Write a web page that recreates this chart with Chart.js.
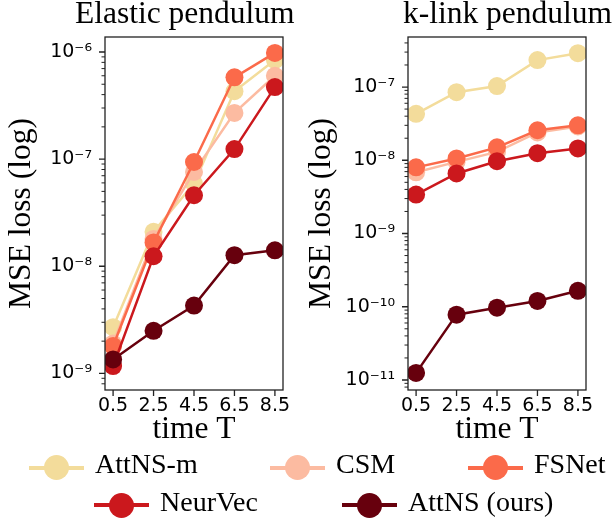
<!DOCTYPE html>
<html><head><meta charset="utf-8">
<script src="https://cdn.jsdelivr.net/npm/chart.js@4/dist/chart.umd.min.js"></script>
<style>
html,body{margin:0;padding:0;background:#fff;}
#wrap{position:relative;width:615px;height:525px;overflow:hidden;background:#fff;}
canvas{position:absolute;top:0;}
.ttl{position:absolute;font-family:'Liberation Serif',serif;font-size:31.5px;line-height:32px;white-space:nowrap;color:#000;}
.lg{position:absolute;font-family:'Liberation Serif',serif;font-size:28px;line-height:28px;white-space:nowrap;color:#000;}
.ln{position:absolute;height:4px;width:55px;}
.mk{position:absolute;width:25px;height:25px;border-radius:50%;}
</style></head>
<body><div id="wrap">
<canvas id="c1" width="300" height="450" style="left:0px"></canvas>
<canvas id="c2" width="315" height="450" style="left:300px"></canvas>
<div class="ttl" style="left:75px;top:-3px">Elastic pendulum</div>
<div class="ttl" style="left:403px;top:-3px">k-link pendulum</div>
</div>
<script>
// ---- data ----
const timeT = [0.5, 2.5, 4.5, 6.5, 8.5];
const seriesNames = ['AttNS-m', 'CSM', 'FSNet', 'NeurVec', 'AttNS (ours)'];
const seriesColors = ['#f3dc9b', '#fcbba1', '#fb6a4a', '#cb181d', '#67000d'];

const elasticAttNSm  = [2.7e-9, 2.1e-8, 5.9e-8, 4.3e-7, 8.4e-7];
const elasticCSM     = [1.9e-9, 1.8e-8, 7.6e-8, 2.7e-7, 6.0e-7];
const elasticFSNet   = [1.8e-9, 1.67e-8, 9.4e-8, 5.8e-7, 9.8e-7];
const elasticNeurVec = [1.17e-9, 1.24e-8, 4.6e-8, 1.24e-7, 4.7e-7];
const elasticAttNS   = [1.35e-9, 2.5e-9, 4.3e-9, 1.27e-8, 1.41e-8];

const klinkAttNSm  = [4.3e-8, 8.5e-8, 1.03e-7, 2.33e-7, 2.9e-7];
const klinkCSM     = [6.85e-9, 9.5e-9, 1.3e-8, 2.4e-8, 2.9e-8];
const klinkFSNet   = [8.0e-9, 1.06e-8, 1.5e-8, 2.57e-8, 3.0e-8];
const klinkNeurVec = [3.4e-9, 6.6e-9, 9.7e-9, 1.25e-8, 1.45e-8];
const klinkAttNS   = [1.25e-11, 7.8e-11, 9.7e-11, 1.2e-10, 1.65e-10];

const elasticYRange = [7.1e-10, 1.38e-6];
const klinkYRange = [7.3e-12, 4.82e-7];
const xRange = [0.1, 8.9];

// ---- helpers ----
const SUP = {'0':'⁰','1':'¹','2':'²','3':'³','4':'⁴','5':'⁵','6':'⁶','7':'⁷','8':'⁸','9':'⁹','-':'⁻'};
function isPow10(v){const l=Math.log10(v);return Math.abs(l-Math.round(l))<1e-9;}
function fmtLog(v){
  if(!isPow10(v)) return '';
  const e = String(Math.round(Math.log10(v)));
  return '10' + e.split('').map(c=>SUP[c]).join('');
}
function logTicks(mn, mx){
  const out=[];
  for(let e=Math.floor(Math.log10(mn)); e<=Math.ceil(Math.log10(mx)); e++){
    for(let m=1;m<=9;m++){
      const v = parseFloat((m*Math.pow(10,e)).toPrecision(6));
      if(v>=mn && v<=mx) out.push({value:v, major:m===1});
    }
  }
  return out;
}

const frameTicks = {
  id:'frameTicks',
  afterDraw(chart){
    const {ctx, chartArea:a} = chart;
    const x = chart.scales.x, y = chart.scales.y;
    ctx.save();
    ctx.strokeStyle = '#222';
    ctx.lineWidth = 1.3;
    ctx.strokeRect(a.left, a.top, a.right-a.left, a.bottom-a.top);
    ctx.beginPath();
    x.ticks.forEach(t=>{
      const px = x.getPixelForValue(t.value);
      ctx.moveTo(px, a.bottom); ctx.lineTo(px, a.bottom+6);
    });
    y.ticks.forEach(t=>{
      if(!isPow10(t.value)) return;
      const py = y.getPixelForValue(t.value);
      ctx.moveTo(a.left-6, py); ctx.lineTo(a.left, py);
    });
    ctx.stroke();
    ctx.lineWidth = 1;
    ctx.beginPath();
    y.ticks.forEach(t=>{
      if(isPow10(t.value)) return;
      const py = y.getPixelForValue(t.value);
      ctx.moveTo(a.left-3.5, py); ctx.lineTo(a.left, py);
    });
    ctx.stroke();
    ctx.restore();
  }
};

function makeChart(id, seriesData, yRange, yAxisWidth, padRight){
  const hiddenGrid = {display:true, drawOnChartArea:false, drawTicks:true, tickLength:6, color:'rgba(0,0,0,0)'};
  return new Chart(document.getElementById(id), {
    type:'line',
    data:{
      datasets: seriesNames.map((n,i)=>({
        label:n,
        data: timeT.map((t,j)=>({x:t, y:seriesData[i][j]})),
        borderColor:seriesColors[i], backgroundColor:seriesColors[i],
        pointBackgroundColor:seriesColors[i], pointBorderColor:seriesColors[i],
        pointBorderWidth:0, pointRadius:9, pointHoverRadius:9,
        borderWidth:2.5, tension:0, fill:false, order:seriesNames.length-1-i
      }))
    },
    options:{
      responsive:false, animation:false, devicePixelRatio:1, events:[],
      layout:{padding:{left:0, right:padRight, top:37, bottom:0}},
      plugins:{legend:{display:false}, tooltip:{enabled:false}, title:{display:false}},
      scales:{
        x:{
          type:'linear', min:xRange[0], max:xRange[1],
          afterBuildTicks:s=>{s.ticks = timeT.map(v=>({value:v}));},
          afterFit:s=>{s.height = 60;},
          grid:hiddenGrid, border:{display:false},
          ticks:{autoSkip:false, maxRotation:0, padding:1, color:'#000',
                 font:{family:'DejaVu Sans', size:19, lineHeight:1}, callback:v=>String(v)},
          title:{display:true, text:'time T', color:'#000',
                 font:{family:'Liberation Serif', size:31.5, lineHeight:1}, padding:{top:0, bottom:5}}
        },
        y:{
          type:'logarithmic', min:yRange[0], max:yRange[1],
          afterBuildTicks:s=>{s.ticks = logTicks(yRange[0], yRange[1]);},
          afterFit:s=>{s.width = yAxisWidth;},
          grid:hiddenGrid, border:{display:false},
          ticks:{autoSkip:false, padding:7, color:'#000',
                 font:{family:'DejaVu Sans', size:19}, callback:v=>fmtLog(v)},
          title:{display:true, text:'MSE loss (log)', color:'#000',
                 font:{family:'Liberation Serif', size:31.5, lineHeight:1}, padding:{top:6, bottom:0}}
        }
      }
    },
    plugins:[frameTicks]
  });
}

makeChart('c1', [elasticAttNSm, elasticCSM, elasticFSNet, elasticNeurVec, elasticAttNS], elasticYRange, 105, 17);
makeChart('c2', [klinkAttNSm, klinkCSM, klinkFSNet, klinkNeurVec, klinkAttNS], klinkYRange, 108, 29);

// ---- legend (HTML) ----
const legendSlots = [[29, 467.5], [270, 467.5], [468, 467.5], [94, 505], [342, 505]];
const wrap = document.getElementById('wrap');
seriesNames.forEach((n,i)=>{
  const [x0, cy] = legendSlots[i];
  const ln = document.createElement('div'); ln.className='ln';
  ln.style.left = x0+'px'; ln.style.top = (cy-2)+'px'; ln.style.background = seriesColors[i];
  const mk = document.createElement('div'); mk.className='mk';
  mk.style.left = (x0+27.5-12.5)+'px'; mk.style.top = (cy-12.5)+'px'; mk.style.background = seriesColors[i];
  const tx = document.createElement('div'); tx.className='lg';
  tx.style.left = (x0+66)+'px'; tx.style.top = (cy-17.5)+'px'; tx.textContent = n;
  wrap.appendChild(ln); wrap.appendChild(mk); wrap.appendChild(tx);
});
</script>
</body></html>
